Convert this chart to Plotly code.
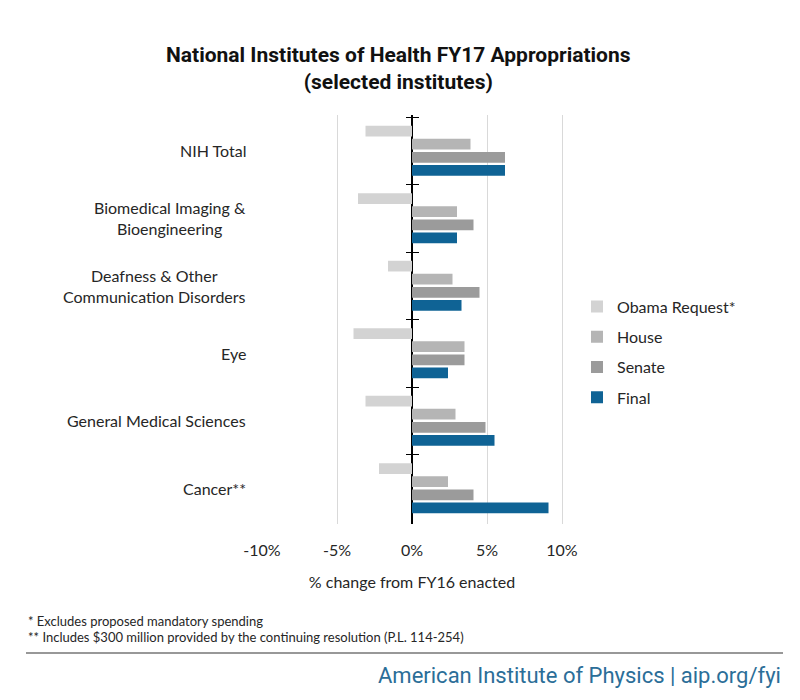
import plotly.graph_objects as go

categories = ["NIH Total", "Biomedical Imaging &<br>Bioengineering",
              "Deafness & Other<br>Communication Disorders", "Eye",
              "General Medical Sciences", "Cancer**"]
obama = [-3.1, -3.6, -1.6, -3.9, -3.1, -2.2]
house = [3.9, 3.0, 2.7, 3.5, 2.9, 2.4]
senate = [6.2, 4.1, 4.5, 3.5, 4.9, 4.1]
final = [6.2, 3.0, 3.3, 2.4, 5.5, 9.1]
series_names = ["Obama Request*", "House", "Senate", "Final"]
series_colors = ["#d3d3d3", "#b5b5b5", "#9b9b9b", "#0f6395"]
x_ticks = [-10, -5, 0, 5, 10]
x_ticklabels = ["-10%", "-5%", "0%", "5%", "10%"]

# page has an 8px body margin, so the figure is slightly smaller and offset
OFF = 8
W, H = 800 - OFF, 700 - OFF


def fx(px):
    return (px - OFF) / W


def fy(py):
    return (H - (py - OFF)) / H


LBL = "Lato, 'Open Sans', sans-serif"
COND = "Roboto, 'Noto Sans', sans-serif"
TXT = "#262626"

fig = go.Figure()
for name, vals, col in zip(series_names, [obama, house, senate, final], series_colors):
    fig.add_trace(go.Bar(y=categories, x=vals, name=name, orientation="h",
                         marker=dict(color=col, line=dict(width=0)),
                         legendgroup=name, hoverinfo="x+name"))

# invisible helper traces for the zero-axis tick marks
for ax in ["y2", "y3"]:
    fig.add_trace(go.Scatter(y=categories, x=[0] * len(categories), yaxis=ax,
                             mode="markers", marker=dict(opacity=0),
                             showlegend=False, hoverinfo="skip"))

n = len(categories)
cat_px = (522 - 117) / n
eps = 2 / cat_px
yrange = [n - 0.5 + eps, -0.5 - eps]
ydom = [fy(524), fy(115)]
xdom = [fx(261), fx(563)]
xr = 10 + 1 / 15
zero_pos = xdom[0] + (xdom[1] - xdom[0]) * 0.5

common_y = dict(type="category", categoryorder="array", categoryarray=categories,
                range=yrange, domain=ydom, showgrid=False, zeroline=False)

fig.update_layout(
    width=W, height=H,
    margin=dict(l=0, r=0, t=0, b=0, autoexpand=False),
    plot_bgcolor="white", paper_bgcolor="white",
    barmode="group", bargap=0.225, bargroupgap=0.18,
    xaxis=dict(domain=xdom, range=[-xr, xr], tickvals=x_ticks, ticktext=x_ticklabels,
               showgrid=True, gridcolor="#d9d9d9", gridwidth=1,
               zeroline=True, zerolinecolor="#000000", zerolinewidth=1.5,
               showline=False, ticks="", automargin=False,
               tickfont=dict(family=LBL, size=16, color=TXT), ticklabelstandoff=15,
               title=dict(text="% change from FY16 enacted",
                          font=dict(family=LBL, size=16, color=TXT), standoff=18)),
    yaxis=dict(**common_y, showticklabels=False, ticks="", automargin=False),
    yaxis2=dict(**common_y, overlaying="y", anchor="free", position=zero_pos,
                showticklabels=False, ticks="outside", tickson="boundaries",
                ticklen=6, tickcolor="#000000", tickwidth=1.2, showline=False),
    yaxis3=dict(**common_y, overlaying="y", anchor="free", position=zero_pos,
                showticklabels=False, ticks="inside", tickson="boundaries",
                ticklen=6, tickcolor="#000000", tickwidth=1.2, showline=False),
    legend=dict(x=fx(577), y=fy(352), xanchor="left", yanchor="middle",
                traceorder="grouped", tracegroupgap=6.5,
                font=dict(family=LBL, size=16, color=TXT), bgcolor="rgba(0,0,0,0)"),
    showlegend=True,
)

annotations = []
for cat in categories:
    annotations.append(dict(text=cat, x=fx(248), xref="paper", xanchor="right",
                            y=cat, yref="y", yanchor="middle", align="center",
                            showarrow=False, font=dict(family=LBL, size=16, color=TXT)))
annotations.append(dict(text="<b>National Institutes of Health FY17 Appropriations</b><br><b>(selected institutes)</b>",
                        x=fx(398), y=fy(68), xref="paper", yref="paper",
                        xanchor="center", yanchor="middle", align="center", showarrow=False,
                        font=dict(family=COND, size=21, color="#111111")))
annotations.append(dict(text="* Excludes proposed mandatory spending",
                        x=fx(26), y=fy(621), xref="paper", yref="paper",
                        xanchor="left", yanchor="middle", showarrow=False,
                        font=dict(family=LBL, size=13, color=TXT)))
annotations.append(dict(text="** Includes $300 million provided by the continuing resolution (P.L. 114-254)",
                        x=fx(26), y=fy(637), xref="paper", yref="paper",
                        xanchor="left", yanchor="middle", showarrow=False,
                        font=dict(family=LBL, size=13, color=TXT)))
annotations.append(dict(text="American Institute of Physics | aip.org/fyi",
                        x=fx(783), y=fy(675), xref="paper", yref="paper",
                        xanchor="right", yanchor="middle", showarrow=False,
                        font=dict(family=COND, size=22, color="#2b6e98")))
fig.update_layout(annotations=annotations)

fig.add_shape(type="line", xref="paper", yref="paper",
              x0=fx(26), x1=fx(783), y0=fy(653), y1=fy(653),
              line=dict(color="#333333", width=1.2))

fig.write_html("out.html")
